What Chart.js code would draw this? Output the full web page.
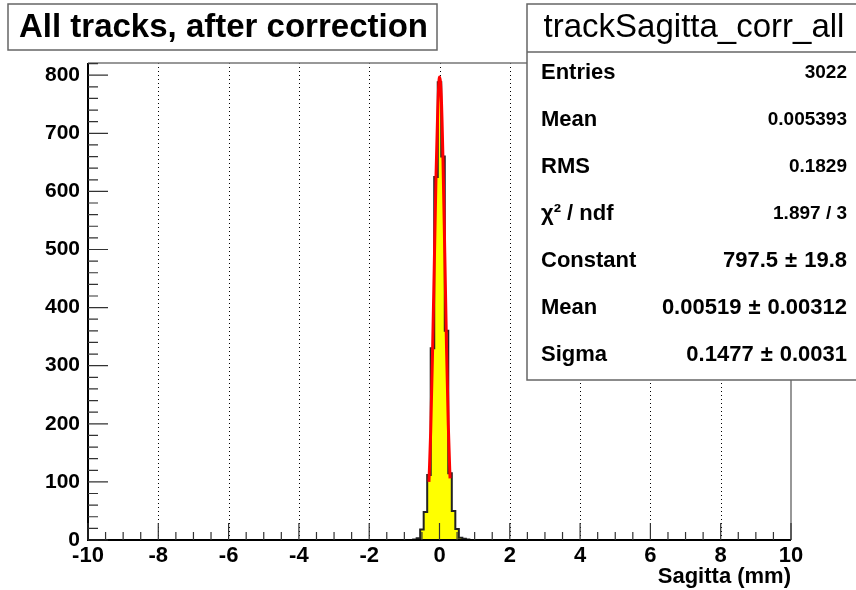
<!DOCTYPE html>
<html>
<head>
<meta charset="utf-8">
<title>trackSagitta_corr_all</title>
<script src="https://cdn.jsdelivr.net/npm/chart.js@4.4.0/dist/chart.umd.min.js"></script>
<style>
  html, body { margin: 0; padding: 0; background: #fff; }
  #wrap { width: 856px; height: 590px; }
</style>
</head>
<body>
<div id="wrap"><canvas id="chart" width="856" height="590"></canvas></div>
<script>
// histogram bins (0.1 mm wide)
const binCenters = [-0.7, -0.6, -0.5, -0.4, -0.3, -0.2, -0.1, 0.0, 0.1, 0.2, 0.3, 0.4, 0.5, 0.6, 0.7, 0.8];
const binCounts  = [1, 3, 18, 48, 112, 330, 625, 788, 660, 360, 115, 50, 19, 4, 2, 1];
const binWidth = 0.1;

// red gaussian fit curve
const fitX = [-0.30, -0.25, -0.20, -0.15, -0.10, -0.05, 0.00, 0.05, 0.10, 0.15, 0.20, 0.25, 0.30];
const fitY = [100, 188, 317, 468, 624, 740, 797, 764, 652, 494, 331, 198, 106];

const xTickValues = [-10, -8, -6, -4, -2, 0, 2, 4, 6, 8, 10];
const yTickValues = [0, 100, 200, 300, 400, 500, 600, 700, 800];
const yMax = 821;

const titleText = 'All tracks, after correction';
const statsTitle = 'trackSagitta_corr_all';
const statLabels = ['Entries', 'Mean', 'RMS', 'χ² / ndf', 'Constant', 'Mean', 'Sigma'];
const statValues = ['3022', '0.005393', '0.1829', '1.897 / 3', '797.5 ± 19.8', '0.00519 ± 0.00312', '0.1477 ± 0.0031'];

const FONT = '"Liberation Sans", Arial, Helvetica, sans-serif';

// build step outline of histogram (each point holds its value until the next one)
const histPoints = [{x: binCenters[0] - binWidth / 2, y: 0}];
binCenters.forEach((c, i) => {
    histPoints.push({x: c - binWidth / 2, y: binCounts[i]});
});
histPoints.push({x: binCenters[binCenters.length - 1] + binWidth / 2, y: 0});

const fitPoints = fitX.map((x, i) => ({x: x, y: fitY[i]}));

// value with "±": drawn in three pieces, right aligned at xr
function drawPm(ctx, text, xr, y) {
    const parts = text.split(' ± ');
    ctx.textAlign = 'right';
    ctx.fillText(parts[1], xr, y);
    let x = xr - ctx.measureText(parts[1]).width - 7;
    ctx.fillText('±', x, y);
    x -= ctx.measureText('±').width + 7;
    ctx.fillText(parts[0], x, y);
}

const rootPlugin = {
    id: 'rootStyle',
    beforeDatasetsDraw(chart) {
        const ctx = chart.ctx;
        const area = chart.chartArea;
        const xs = chart.scales.x;
        // dotted vertical grid
        ctx.save();
        ctx.strokeStyle = '#000';
        ctx.lineWidth = 1;
        ctx.setLineDash([1, 3]);
        xTickValues.slice(1, -1).forEach(v => {
            const px = Math.round(xs.getPixelForValue(v)) + 0.5;
            ctx.beginPath();
            ctx.moveTo(px, area.top);
            ctx.lineTo(px, area.bottom);
            ctx.stroke();
        });
        ctx.restore();
    },
    afterDatasetsDraw(chart) {
        const ctx = chart.ctx;
        const area = chart.chartArea;
        const xs = chart.scales.x;
        const ys = chart.scales.y;
        ctx.save();
        // frame
        ctx.strokeStyle = '#777';
        ctx.lineWidth = 1.5;
        ctx.beginPath();
        ctx.moveTo(area.left, area.top);
        ctx.lineTo(area.right, area.top);
        ctx.lineTo(area.right, area.bottom);
        ctx.stroke();
        ctx.strokeStyle = '#000';
        ctx.lineWidth = 2;
        ctx.beginPath();
        ctx.moveTo(area.left, area.top);
        ctx.lineTo(area.left, area.bottom);
        ctx.lineTo(area.right, area.bottom);
        ctx.stroke();

        // ticks inside the frame
        ctx.lineWidth = 1.2;
        ctx.strokeStyle = '#333';
        ctx.beginPath();
        for (let v = -10; v <= 10.001; v += 0.5) {
            const px = xs.getPixelForValue(v);
            const len = (Math.abs(v % 2) < 0.001) ? 17 : 8;
            ctx.moveTo(px, area.bottom);
            ctx.lineTo(px, area.bottom - len);
        }
        for (let v = 0; v <= yMax; v += 20) {
            const py = ys.getPixelForValue(v);
            const len = (v % 100 === 0) ? 20 : 10;
            ctx.moveTo(area.left, py);
            ctx.lineTo(area.left + len, py);
        }
        ctx.stroke();

        // axis title
        ctx.fillStyle = '#000';
        ctx.font = 'bold 22px ' + FONT;
        ctx.textAlign = 'right';
        ctx.textBaseline = 'middle';
        ctx.fillText('Sagitta (mm)', area.right, 577);
        ctx.restore();
    },
    afterDraw(chart) {
        const ctx = chart.ctx;
        ctx.save();
        // title box
        ctx.fillStyle = '#fff';
        ctx.fillRect(8, 4, 429, 46);
        ctx.strokeStyle = '#666';
        ctx.lineWidth = 1.5;
        ctx.strokeRect(8, 4, 429, 46);
        ctx.fillStyle = '#000';
        ctx.font = 'bold 33px ' + FONT;
        ctx.textAlign = 'left';
        ctx.textBaseline = 'middle';
        ctx.fillText(titleText, 19, 28);

        // stats box
        const bx = 527, by = 4, bw = 340, bh = 376;
        ctx.fillStyle = '#fff';
        ctx.fillRect(bx, by, bw, bh);
        ctx.strokeStyle = '#666';
        ctx.strokeRect(bx, by, bw, bh);
        ctx.beginPath();
        ctx.moveTo(bx, 52);
        ctx.lineTo(bx + bw, 52);
        ctx.stroke();
        ctx.fillStyle = '#000';
        ctx.font = '33px ' + FONT;
        ctx.textAlign = 'center';
        ctx.fillText(statsTitle, 694, 28);

        statLabels.forEach((lab, i) => {
            const y = 73 + i * 47;
            ctx.font = 'bold 22px ' + FONT;
            ctx.textAlign = 'left';
            ctx.fillText(lab, 541, y);
            const val = statValues[i];
            if (val.indexOf('±') >= 0) {
                ctx.font = 'bold 22px ' + FONT;
                drawPm(ctx, val, 847, y);
            } else {
                ctx.font = 'bold 19px ' + FONT;
                ctx.textAlign = 'right';
                ctx.fillText(val, 847, y);
            }
        });
        ctx.restore();
    }
};

new Chart(document.getElementById('chart'), {
    type: 'line',
    data: {
        datasets: [
            {
                label: 'histogram',
                data: histPoints,
                stepped: 'before',
                fill: 'origin',
                backgroundColor: '#ffff00',
                borderColor: '#222',
                borderWidth: 2,
                pointRadius: 0,
                order: 2
            },
            {
                label: 'fit',
                data: fitPoints,
                borderColor: '#ff0000',
                borderWidth: 3,
                pointRadius: 0,
                fill: false,
                cubicInterpolationMode: 'monotone',
                order: 1
            }
        ]
    },
    options: {
        responsive: false,
        animation: false,
        layout: { padding: { left: 0, top: 63, right: 65, bottom: 0 } },
        plugins: { legend: { display: false }, tooltip: { enabled: false } },
        scales: {
            x: {
                type: 'linear',
                min: -10,
                max: 10,
                afterBuildTicks: s => { s.ticks = xTickValues.map(v => ({value: v})); },
                afterFit: s => { s.height = 50; },
                grid: { display: false, drawTicks: false, tickLength: 0 },
                border: { display: false },
                ticks: {
                    color: '#000',
                    font: { family: FONT, size: 22, weight: 'bold' },
                    padding: 3,
                    maxRotation: 0,
                    autoSkip: false
                }
            },
            y: {
                type: 'linear',
                min: 0,
                max: yMax,
                afterBuildTicks: s => { s.ticks = yTickValues.map(v => ({value: v})); },
                afterFit: s => { s.width = 88; },
                grid: { display: false, drawTicks: false, tickLength: 0 },
                border: { display: false },
                ticks: {
                    color: '#000',
                    font: { family: FONT, size: 21, weight: 'bold' },
                    padding: 8
                }
            }
        }
    },
    plugins: [rootPlugin]
});
</script>
</body>
</html>
